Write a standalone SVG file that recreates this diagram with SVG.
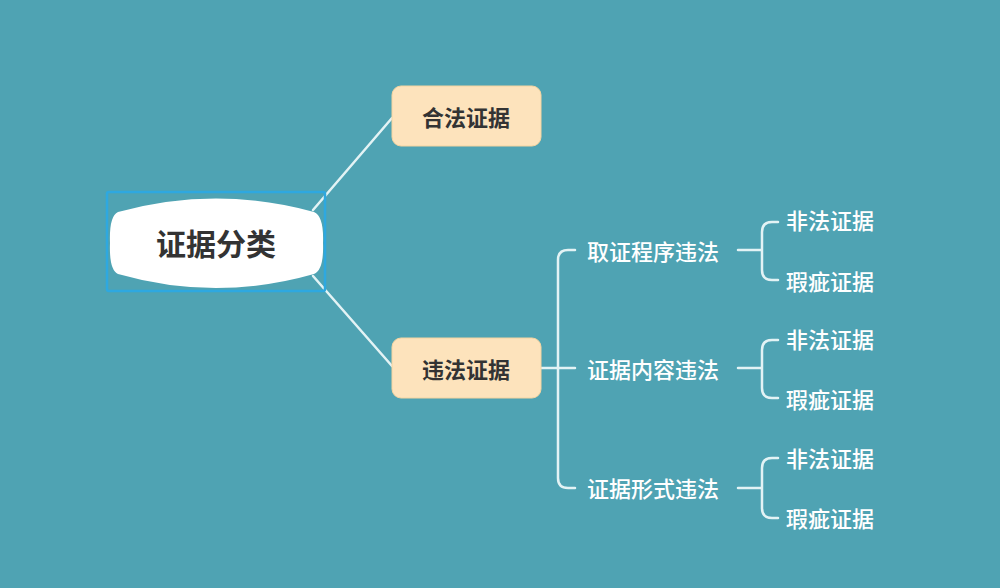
<svg xmlns="http://www.w3.org/2000/svg" width="1000" height="588" viewBox="0 0 1000 588">
<style>
text{font-family:"Noto Sans CJK SC","Noto Sans",sans-serif;dominant-baseline:central}
.t{fill:#fff;font-size:22px;font-weight:500}
.b{fill:#333;font-size:22px;font-weight:700}
.c{fill:none;stroke:#e3f3f5;stroke-width:2.5;stroke-linecap:round}
.box{fill:#fde3bc;stroke:#f5d4a0;stroke-width:1}
</style>
<rect width="1000" height="588" fill="#4fa3b3"/>
<g id="connectors">
<line class="c" x1="313" y1="210" x2="392" y2="118"/>
<line class="c" x1="313" y1="276" x2="392" y2="366"/>
<path class="c" d="M541 368H575 M575 250H568Q558 250 558 260V478Q558 488 568 488H575"/>
<path class="c" d="M738 250H762 M778 222H772Q762 222 762 232V270Q762 280 772 280H778"/>
<path class="c" d="M738 368H762 M778 340H772Q762 340 762 350V388Q762 398 772 398H778"/>
<path class="c" d="M738 488H762 M778 458H772Q762 458 762 468V508Q762 518 772 518H778"/>
</g>
<g id="root">
<rect x="107" y="192" width="218" height="99" fill="none" stroke="#2ea8e0" stroke-width="2.5" rx="2"/>
<path d="M118 212Q216 185 314 212Q324 216 323 243Q324 270 314 274Q216 302 118 274Q109 270 110 243Q109 216 118 212Z" fill="#fff"/>
<text x="216" y="242" text-anchor="middle" fill="#333" font-size="30" font-weight="700">证据分类</text>
</g>
<g id="legal"><rect class="box" x="392" y="86" width="149" height="60" rx="9"/><text class="b" x="466" y="116" text-anchor="middle">合法证据</text></g>
<g id="illegal"><rect class="box" x="392" y="338" width="149" height="60" rx="9"/><text class="b" x="466" y="368" text-anchor="middle">违法证据</text></g>
<g id="n1"><text class="t" x="587" y="250">取证程序违法</text></g>
<g id="n2"><text class="t" x="587" y="368">证据内容违法</text></g>
<g id="n3"><text class="t" x="587" y="487">证据形式违法</text></g>
<g id="l1"><text class="t" x="786" y="219">非法证据</text></g>
<g id="l2"><text class="t" x="786" y="280">瑕疵证据</text></g>
<g id="l3"><text class="t" x="786" y="338">非法证据</text></g>
<g id="l4"><text class="t" x="786" y="398">瑕疵证据</text></g>
<g id="l5"><text class="t" x="786" y="457">非法证据</text></g>
<g id="l6"><text class="t" x="786" y="517">瑕疵证据</text></g>
</svg>
